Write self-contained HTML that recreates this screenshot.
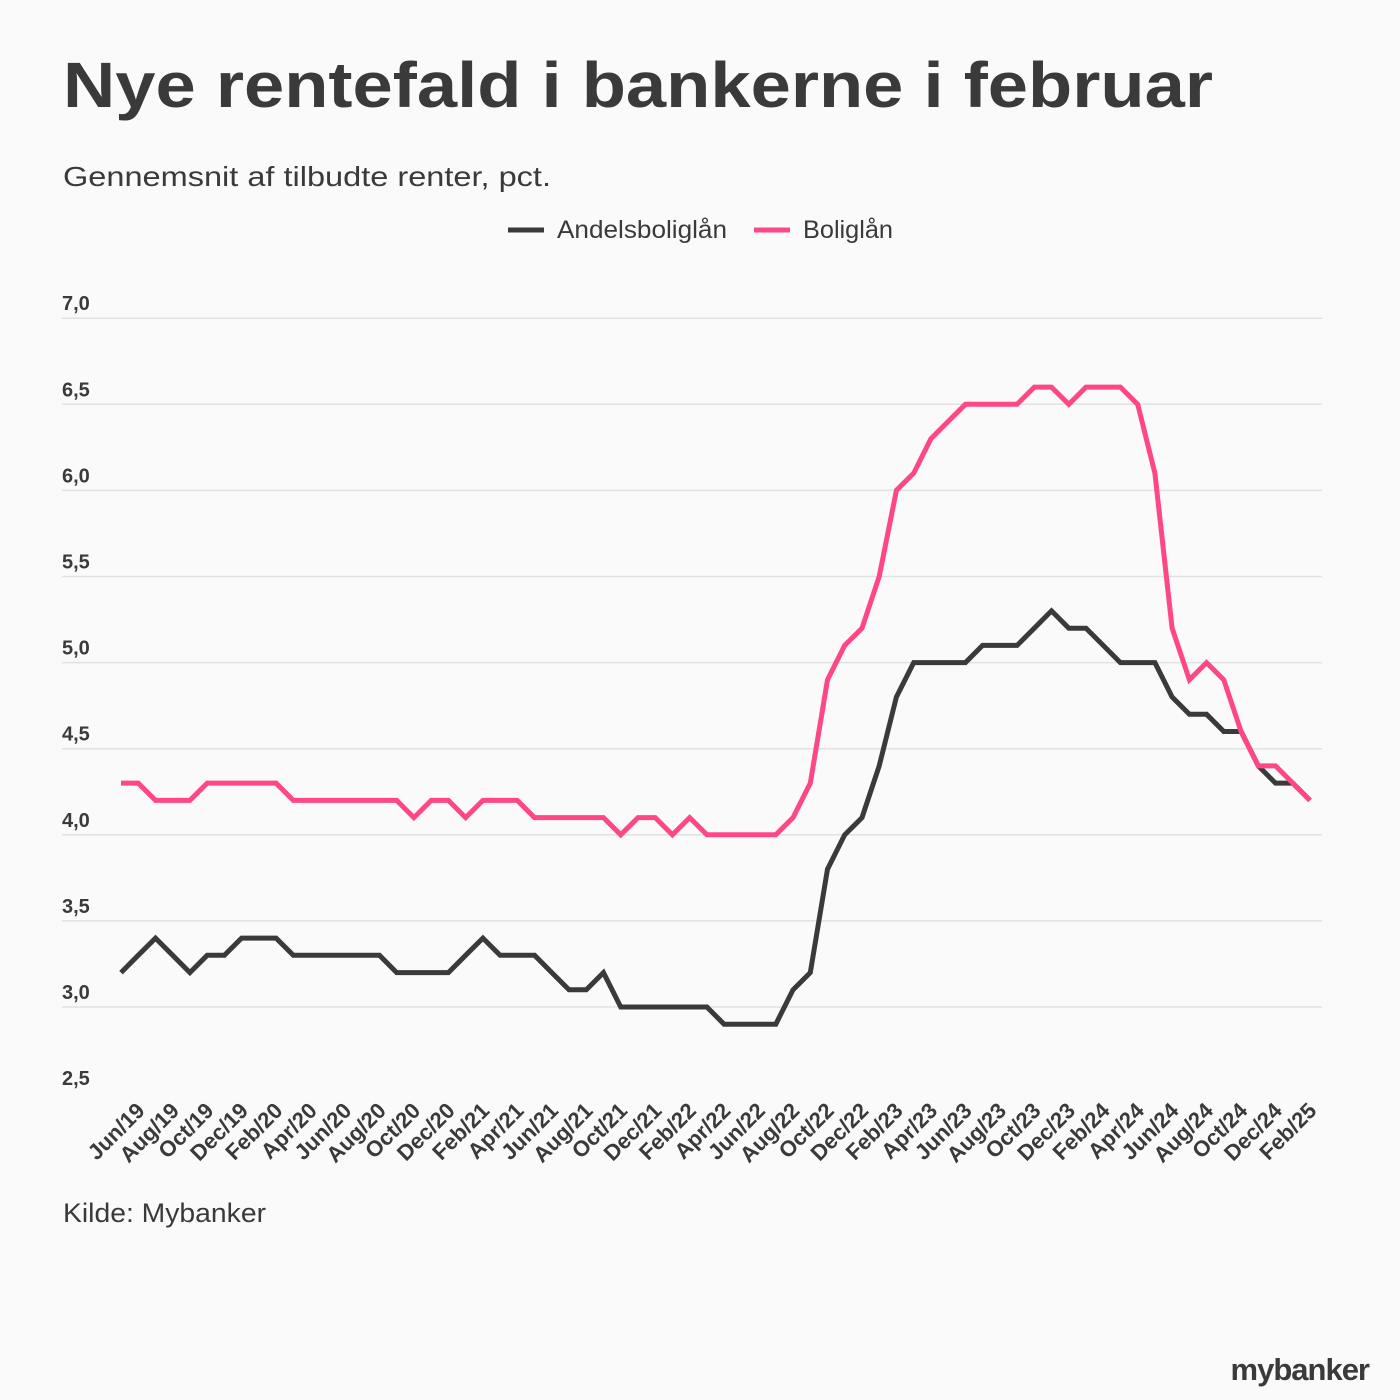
<!DOCTYPE html>
<html><head><meta charset="utf-8"><style>
html,body{margin:0;padding:0;background:#fafafa;}
svg{display:block;font-family:"Liberation Sans",sans-serif;}
</style></head><body>
<svg id="chart" width="1400" height="1400" viewBox="0 0 1400 1400">
<rect width="1400" height="1400" fill="#fafafa"/>
<text x="63" y="107" font-size="64" font-weight="bold" fill="#3a3a3a" textLength="1150" lengthAdjust="spacingAndGlyphs">Nye rentefald i bankerne i februar</text>
<text x="63" y="186" font-size="28" fill="#3a3a3a" textLength="488" lengthAdjust="spacingAndGlyphs">Gennemsnit af tilbudte renter, pct.</text>
<g>
<g>
<line x1="508" y1="230" x2="544" y2="230" stroke="#3a3a3a" stroke-width="5"/>
<text x="557" y="238" font-size="25" fill="#3a3a3a" textLength="170" lengthAdjust="spacingAndGlyphs">Andelsboliglån</text></g>
<g>
<line x1="754" y1="230" x2="790" y2="230" stroke="#ff4785" stroke-width="5"/>
<text x="803" y="238" font-size="25" fill="#3a3a3a" textLength="90" lengthAdjust="spacingAndGlyphs">Boliglån</text></g>
</g>
<g id="grid"></g><g id="ylabels"></g><g id="xlabels"></g><g id="lines"></g>
<text x="63" y="1222" font-size="27" fill="#3a3a3a" textLength="203" lengthAdjust="spacingAndGlyphs">Kilde: Mybanker</text>
<text x="1369" y="1380" font-size="31" font-weight="bold" fill="#3a3a3a" text-anchor="end" letter-spacing="-1">mybanker</text>
</svg>
<script>
const yTicks=[2.5,3.0,3.5,4.0,4.5,5.0,5.5,6.0,6.5,7.0];
const yTickLabels=["2,5","3,0","3,5","4,0","4,5","5,0","5,5","6,0","6,5","7,0"];
const xTickLabels=["Jun/19","Aug/19","Oct/19","Dec/19","Feb/20","Apr/20","Jun/20","Aug/20","Oct/20","Dec/20","Feb/21","Apr/21","Jun/21","Aug/21","Oct/21","Dec/21","Feb/22","Apr/22","Jun/22","Aug/22","Oct/22","Dec/22","Feb/23","Apr/23","Jun/23","Aug/23","Oct/23","Dec/23","Feb/24","Apr/24","Jun/24","Aug/24","Oct/24","Dec/24","Feb/25"];
const andelsboliglan=[3.2,3.3,3.4,3.3,3.2,3.3,3.3,3.4,3.4,3.4,3.3,3.3,3.3,3.3,3.3,3.3,3.2,3.2,3.2,3.2,3.3,3.4,3.3,3.3,3.3,3.2,3.1,3.1,3.2,3.0,3.0,3.0,3.0,3.0,3.0,2.9,2.9,2.9,2.9,3.1,3.2,3.8,4.0,4.1,4.4,4.8,5.0,5.0,5.0,5.0,5.1,5.1,5.1,5.2,5.3,5.2,5.2,5.1,5.0,5.0,5.0,4.8,4.7,4.7,4.6,4.6,4.4,4.3,4.3,4.2];
const boliglan=[4.3,4.3,4.2,4.2,4.2,4.3,4.3,4.3,4.3,4.3,4.2,4.2,4.2,4.2,4.2,4.2,4.2,4.1,4.2,4.2,4.1,4.2,4.2,4.2,4.1,4.1,4.1,4.1,4.1,4.0,4.1,4.1,4.0,4.1,4.0,4.0,4.0,4.0,4.0,4.1,4.3,4.9,5.1,5.2,5.5,6.0,6.1,6.3,6.4,6.5,6.5,6.5,6.5,6.6,6.6,6.5,6.6,6.6,6.6,6.5,6.1,5.2,4.9,5.0,4.9,4.6,4.4,4.4,4.3,4.2];
const NS="http://www.w3.org/2000/svg";
const n=andelsboliglan.length;
function xs(i){return 121+i*(1310-121)/(n-1);}
function ys(v){return 1007-(v-3.0)*172.2;}
function mk(tag,attrs,parent){const e=document.createElementNS(NS,tag);for(const k in attrs)e.setAttribute(k,attrs[k]);parent.appendChild(e);return e;}
const grid=document.getElementById('grid'),yl=document.getElementById('ylabels'),xl=document.getElementById('xlabels'),lines=document.getElementById('lines');
yTicks.forEach((v,k)=>{
  if(k>0){const g=mk('line',{x1:62,x2:1322,y1:ys(v),y2:ys(v),stroke:'#e2e2e2','stroke-width':1.5},grid);
  
  }
  const t=mk('text',{x:62,y:ys(v)-8,'font-size':20,'font-weight':'bold',fill:'#3a3a3a'},yl);
  t.textContent=yTickLabels[k];
  
  
});
xTickLabels.forEach((s,k)=>{
  const x=xs(k*2)+25,y=1112;
  const t=mk('text',{x:x,y:y,'font-size':22,'font-weight':'bold',fill:'#3a3a3a','text-anchor':'end',transform:`rotate(-45 ${x} ${y})`},xl);
  t.textContent=s;
  
  
});
function series(arr,color,name){
  const d=arr.map((v,i)=>(i?'L':'M')+xs(i).toFixed(1)+' '+ys(v).toFixed(1)).join(' ');
  const p=mk('path',{d:d,fill:'none',stroke:color,'stroke-width':5,'stroke-linejoin':'miter'},lines);
  
  
}
series(andelsboliglan,'#3a3a3a','andelsboliglan-line');
series(boliglan,'#ff4785','boliglan-line');
</script>
</body></html>
